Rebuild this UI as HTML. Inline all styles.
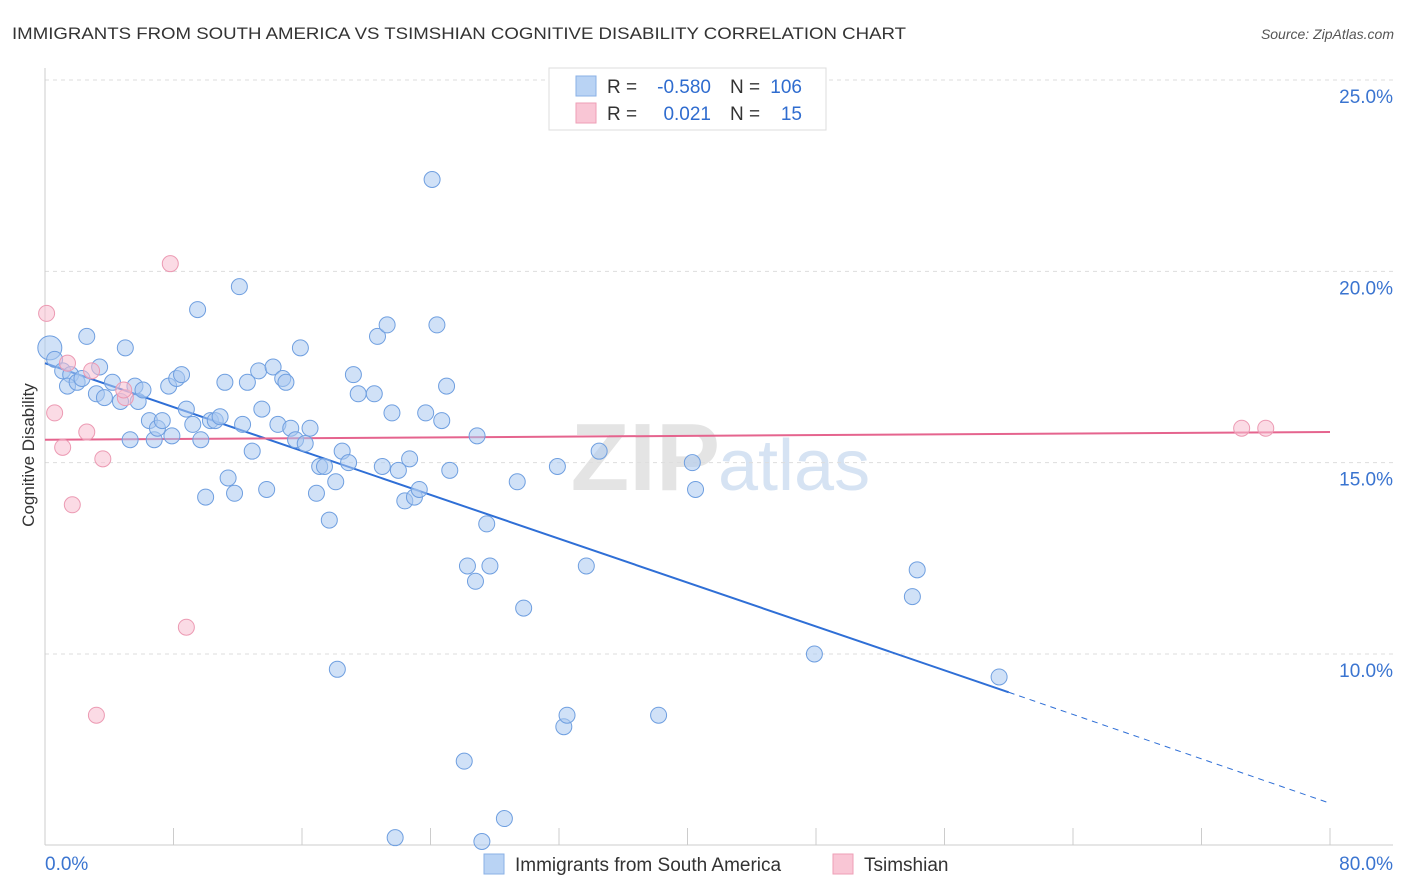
<!DOCTYPE html>
<html><head><meta charset="utf-8"><style>
html,body{margin:0;padding:0;background:#fff;font-family:"Liberation Sans",sans-serif;overflow:hidden;width:1406px;height:892px}
svg{display:block}
svg text{font-family:"Liberation Sans",sans-serif}
</style></head><body>
<svg id="c" width="1406" height="892">
<text x="12" y="39" font-size="17" fill="#333" textLength="894" lengthAdjust="spacingAndGlyphs">IMMIGRANTS FROM SOUTH AMERICA VS TSIMSHIAN COGNITIVE DISABILITY CORRELATION CHART</text>
<text x="1394" y="39" font-size="14" fill="#555" font-style="italic" text-anchor="end">Source: ZipAtlas.com</text>
<text x="720" y="490" font-size="96" fill="#e4e4e4" text-anchor="end" font-family="Liberation Serif" font-weight="bold">ZIP</text>
<text x="718" y="490" font-size="72" fill="#d6e3f3">atlas</text>
<g id="grid"></g><g id="axes"></g><g id="lines"></g><g id="pts"></g>
<text x="34" y="455" font-size="17" fill="#333" text-anchor="middle" transform="rotate(-90 34 455)">Cognitive Disability</text>
<g>
<rect x="549" y="68" width="277" height="62" fill="#fff" stroke="#ddd"/>
<rect x="576" y="76" width="20" height="20" fill="#b9d3f4" stroke="#8ab0e6"/>
<rect x="576" y="103" width="20" height="20" fill="#f9c6d5" stroke="#ee9fb6"/>
<text x="607" y="93" font-size="19" fill="#333">R =</text>
<text x="711" y="93" font-size="19" fill="#2f6ccf" text-anchor="end">-0.580</text>
<text x="730" y="93" font-size="19" fill="#333">N =</text>
<text x="802" y="93" font-size="19" fill="#2f6ccf" text-anchor="end">106</text>
<text x="607" y="120" font-size="19" fill="#333">R =</text>
<text x="711" y="120" font-size="19" fill="#2f6ccf" text-anchor="end">0.021</text>
<text x="730" y="120" font-size="19" fill="#333">N =</text>
<text x="802" y="120" font-size="19" fill="#2f6ccf" text-anchor="end">15</text>
</g>
<g>
<rect x="484" y="854" width="20" height="20" fill="#b9d3f4" stroke="#8ab0e6"/>
<text x="515" y="871" font-size="19" fill="#333">Immigrants from South America</text>
<rect x="833" y="854" width="20" height="20" fill="#f9c6d5" stroke="#ee9fb6"/>
<text x="864" y="871" font-size="19" fill="#333">Tsimshian</text>
</g>
</svg>
<script>
const yTicks=[10,15,20,25];
const yTickLabels=["10.0%","15.0%","20.0%","25.0%"];
const xTickLabels=["0.0%","80.0%"];
const blueX=[0.3,0.6,1.1,1.6,1.4,2.0,2.6,2.3,3.2,3.4,3.7,4.2,4.7,5.0,5.3,5.6,5.8,6.1,6.5,6.8,7.0,7.3,7.7,7.9,8.2,8.5,8.8,9.2,9.5,9.7,10.0,10.3,10.6,10.9,11.2,11.4,11.8,12.1,12.3,12.6,12.9,13.3,13.5,13.8,14.2,14.5,14.8,15.0,15.3,15.6,15.9,16.2,16.5,16.9,17.1,17.4,17.7,18.1,18.2,18.5,18.9,19.2,19.5,20.5,20.7,21.0,21.3,21.6,21.8,22.0,22.4,22.7,23.0,23.3,23.7,24.1,24.4,24.7,25.0,25.2,26.1,26.3,26.8,26.9,27.2,27.5,27.7,28.6,29.4,29.8,31.9,32.3,32.5,33.7,34.5,38.2,40.3,40.5,47.9,54.0,54.3,59.4];
const blueY=[18.0,17.7,17.4,17.3,17.0,17.1,18.3,17.2,16.8,17.5,16.7,17.1,16.6,18.0,15.6,17.0,16.6,16.9,16.1,15.6,15.9,16.1,17.0,15.7,17.2,17.3,16.4,16.0,19.0,15.6,14.1,16.1,16.1,16.2,17.1,14.6,14.2,19.6,16.0,17.1,15.3,17.4,16.4,14.3,17.5,16.0,17.2,17.1,15.9,15.6,18.0,15.5,15.9,14.2,14.9,14.9,13.5,14.5,9.6,15.3,15.0,17.3,16.8,16.8,18.3,14.9,18.6,16.3,5.2,14.8,14.0,15.1,14.1,14.3,16.3,22.4,18.6,16.1,17.0,14.8,7.2,12.3,11.9,15.7,5.1,13.4,12.3,5.7,14.5,11.2,14.9,8.1,8.4,12.3,15.3,8.4,15.0,14.3,10.0,11.5,12.2,9.4];
const pinkX=[0.1,0.6,1.1,1.7,2.6,2.9,3.2,3.6,5.0,7.8,8.8,74.5,76.0,1.4,4.9];
const pinkY=[18.9,16.3,15.4,13.9,15.8,17.4,8.4,15.1,16.7,20.2,10.7,15.9,15.9,17.6,16.9];
const blueTrend=[[0,17.6],[60,9.0],[80,6.1]];
const pinkTrend=[[0,15.6],[80,15.8]];
const X0=45,X1=1330,Y25=80,Y10=654;
const sx=v=>X0+(v/80)*(X1-X0);
const sy=v=>Y10-(v-10)*(Y10-Y25)/15;
const NS="http://www.w3.org/2000/svg";
function mk(p,t,a){const e=document.createElementNS(NS,t);for(const k in a)e.setAttribute(k,a[k]);p.appendChild(e);return e;}
const grid=document.getElementById('grid'),axes=document.getElementById('axes'),lines=document.getElementById('lines'),pts=document.getElementById('pts');
yTicks.forEach((t,i)=>{
 const l=mk(grid,'line',{x1:X0,x2:1393,y1:sy(t),y2:sy(t),stroke:'#ddd','stroke-dasharray':'4 4'});
 
 
 const tx=mk(axes,'text',{x:1393,y:sy(t)+23,'font-size':19,fill:'#3a74d0','text-anchor':'end'});
 tx.textContent=yTickLabels[i];
 
 
});
const ax=mk(axes,'line',{x1:X0,x2:X0,y1:68,y2:845,stroke:'#ccc'});


const bx=mk(axes,'line',{x1:X0,x2:1393,y1:845,y2:845,stroke:'#ccc'});


for(let i=0;i<=10;i++){
 const t=mk(axes,'line',{x1:sx(i*8),x2:sx(i*8),y1:828,y2:845,stroke:'#ccc'});
 
 
}
[[0,'start',X0],[80,'end',1393]].forEach((d,i)=>{
 const tx=mk(axes,'text',{x:d[2],y:870,'font-size':19,fill:'#3a74d0','text-anchor':d[1]});
 tx.textContent=xTickLabels[i];
 
 
});
blueX.forEach((x,i)=>{
 const c=mk(pts,'circle',{cx:sx(x),cy:sy(blueY[i]),r:i==0?12:8,fill:'rgba(170,200,240,0.55)',stroke:'#6f9fe0','stroke-width':1});
 
 
});
pinkX.forEach((x,i)=>{
 const c=mk(pts,'circle',{cx:sx(x),cy:sy(pinkY[i]),r:8,fill:'rgba(248,190,208,0.55)',stroke:'#ec9ab3','stroke-width':1});
 
 
});
const b1=mk(lines,'line',{x1:sx(blueTrend[0][0]),y1:sy(blueTrend[0][1]),x2:sx(blueTrend[1][0]),y2:sy(blueTrend[1][1]),stroke:'#2f6fd6','stroke-width':2});


const b2=mk(lines,'line',{x1:sx(blueTrend[1][0]),y1:sy(blueTrend[1][1]),x2:sx(blueTrend[2][0]),y2:sy(blueTrend[2][1]),stroke:'#2f6fd6','stroke-width':1,'stroke-dasharray':'6 5'});


const p1=mk(lines,'line',{x1:sx(pinkTrend[0][0]),y1:sy(pinkTrend[0][1]),x2:sx(pinkTrend[1][0]),y2:sy(pinkTrend[1][1]),stroke:'#e5648e','stroke-width':2});


</script>
</body></html>
